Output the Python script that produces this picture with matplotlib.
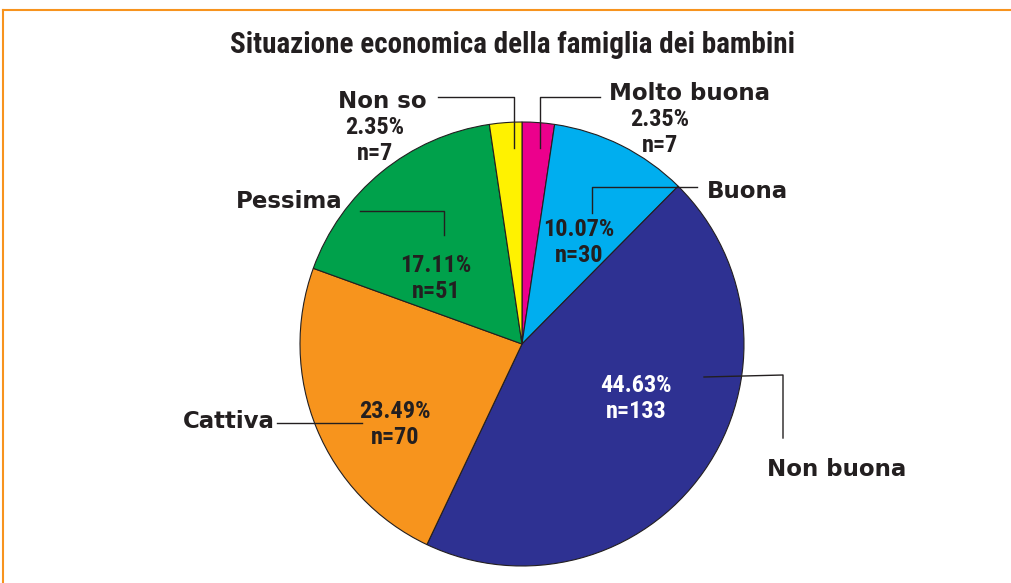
import matplotlib.pyplot as plt
from matplotlib.lines import Line2D

# data
categories = ["Molto buona", "Buona", "Non buona", "Cattiva", "Pessima", "Non so"]
counts = [7, 30, 133, 70, 51, 7]
percents = [2.35, 10.07, 44.63, 23.49, 17.11, 2.35]
colors = ["#EC008C", "#00AEEF", "#2E3192", "#F7941D", "#00A14B", "#FFF200"]

W, H = 1011, 583
TXT = "#231F20"
narrow = ["Roboto Condensed", "DejaVu Sans"]
wide = ["DejaVu Sans"]

fig = plt.figure(figsize=(W / 100, H / 100), dpi=100)
ax = fig.add_axes([0, 0, 1, 1])


def py(y):
    # pixel row (from top) -> data y
    return H - y


ax.pie(counts, colors=colors, startangle=90, counterclock=False,
       center=(522, py(344)), radius=222, frame=True,
       wedgeprops=dict(edgecolor="#231F20", linewidth=0.8))
ax.set_xlim(0, W)
ax.set_ylim(0, H)
ax.set_aspect("equal")
ax.axis("off")

# orange frame (top and left only)
fig.add_artist(Line2D([3 / W, 1], [py(10) / H, py(10) / H], color="#F7931E", lw=1.5))
fig.add_artist(Line2D([3 / W, 3 / W], [0, py(10) / H], color="#F7931E", lw=1.5))

ax.text(513, py(45), "Situazione economica della famiglia dei bambini",
        ha="center", va="center", fontsize=21, fontweight="bold",
        family=narrow, color=TXT)

# layout: name position, value position, value colour, leader line (pixels)
layout = {
    "Molto buona": dict(name=(609, 93, "left"), val=(660, 120), vc=TXT,
                        line=[(540, 148), (540, 97), (600, 97)]),
    "Buona": dict(name=(707, 192, "left"), val=(579, 229), vc=TXT,
                  line=[(592, 213), (592, 187), (697, 187)]),
    "Non buona": dict(name=(767, 470, "left"), val=(636, 386), vc="white",
                      line=[(704, 377), (783, 375), (783, 438)]),
    "Cattiva": dict(name=(275, 422, "right"), val=(395, 411), vc=TXT,
                    line=[(277, 423), (362, 423)]),
    "Pessima": dict(name=(342, 201, "right"), val=(436, 265), vc=TXT,
                    line=[(360, 211), (444, 211), (444, 235)]),
    "Non so": dict(name=(427, 101, "right"), val=(375, 128), vc=TXT,
                   line=[(438, 97), (514, 97), (514, 148)]),
}

for cat, n, p in zip(categories, counts, percents):
    lay = layout[cat]
    xs = [pt[0] for pt in lay["line"]]
    ys = [py(pt[1]) for pt in lay["line"]]
    ax.plot(xs, ys, color=TXT, lw=1)
    nx, ny, nha = lay["name"]
    ax.text(nx, py(ny), cat, ha=nha, va="center", fontsize=16.5,
            fontweight="bold", family=wide, color=TXT)
    vx, vy = lay["val"]
    ax.text(vx, py(vy), f"{p:.2f}%", ha="center", va="center",
            fontsize=17.5, fontweight="bold", family=narrow, color=lay["vc"])
    ax.text(vx, py(vy + 26), f"n={n}", ha="center", va="center",
            fontsize=17.5, fontweight="bold", family=narrow, color=lay["vc"])

fig.savefig("out.png", dpi=100)
